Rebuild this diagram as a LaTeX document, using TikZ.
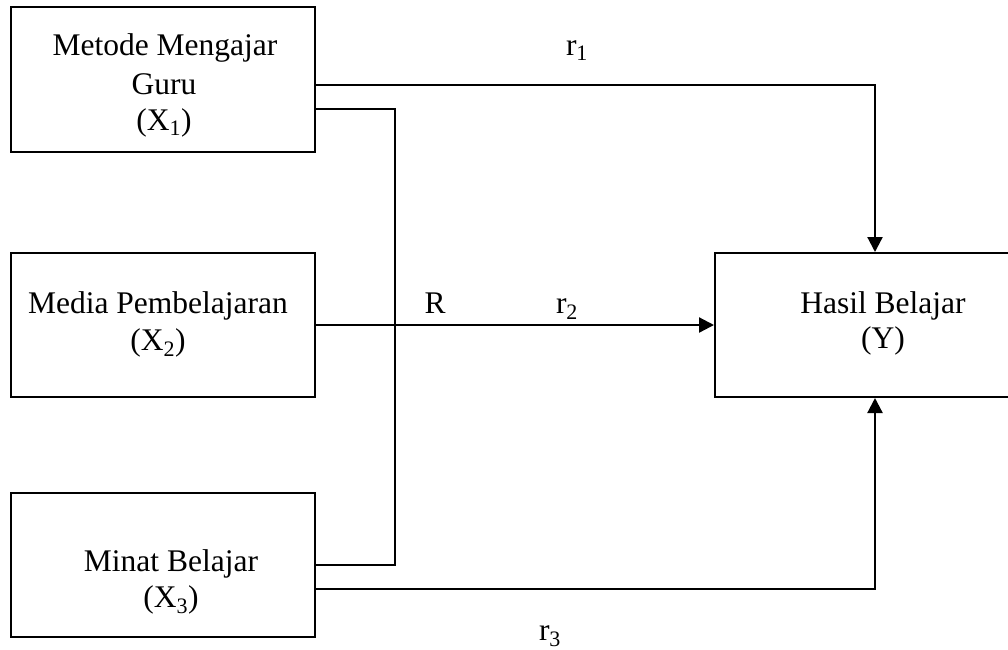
\documentclass[tikz,border=0pt]{standalone}
\usepackage{fontspec}
\setmainfont{Liberation Serif}
\usetikzlibrary{arrows.meta}

\tikzset{
  box/.style={draw, line width=2pt, rectangle, inner sep=0pt},
  txt/.style={anchor=base, inner sep=0pt, font=\fontsize{31.5}{37}\selectfont},
  wire/.style={line width=2pt},
  arr/.style={line width=2.2pt, -{Triangle[length=15pt,width=15pt]}}
}

\begin{document}
\begin{tikzpicture}[x=1pt,y=-1pt]
\useasboundingbox (0,0) rectangle (1008,649);
\clip (0,0) rectangle (1008,649);

% boxes
\node[box, minimum width=304pt, minimum height=145pt] (x1) at (163,79.5) {};
\node[box, minimum width=304pt, minimum height=144pt] (x2) at (163,325) {};
\node[box, minimum width=304pt, minimum height=144pt] (x3) at (163,565) {};
\node[box, minimum width=320pt, minimum height=144pt] (y) at (875,325) {};

% box texts
\node[txt] (t1a) at (165,55) {Metode Mengajar};
\node[txt] (t1b) at (164,94) {Guru};
\node[txt] (t1c) at (164,130) {(X\textsubscript{1})};
\node[txt] (t2a) at (158,313) {Media Pembelajaran};
\node[txt] (t2b) at (158,350) {(X\textsubscript{2})};
\node[txt] (t3a) at (171,571) {Minat Belajar};
\node[txt] (t3b) at (171,607) {(X\textsubscript{3})};
\node[txt] (tya) at (883,313) {Hasil Belajar};
\node[txt] (tyb) at (883,348) {(Y)};

% connector labels
\node[txt] (lr1) at (577,55) {r\textsubscript{1}};
\node[txt] (lR)  at (435,313) {R};
\node[txt] (lr2) at (567,313) {r\textsubscript{2}};
\node[txt] (lr3) at (550,640) {r\textsubscript{3}};

% connection points on the boxes
\coordinate (a1) at (x1.east |- 0,85);
\coordinate (b1) at (x1.east |- 0,109);
\coordinate (b3) at (x3.east);
\coordinate (a3) at (x3.east |- 0,589);
\coordinate (bus) at (395,0);

% connectors
\draw[arr] (a1) -| (y.north);
\draw[arr] (x2.east) -- (y.west);
\draw[arr] (a3) -| (y.south);
\draw[wire] (b1) -| (bus |- b3) -- (b3);
\end{tikzpicture}
\end{document}
